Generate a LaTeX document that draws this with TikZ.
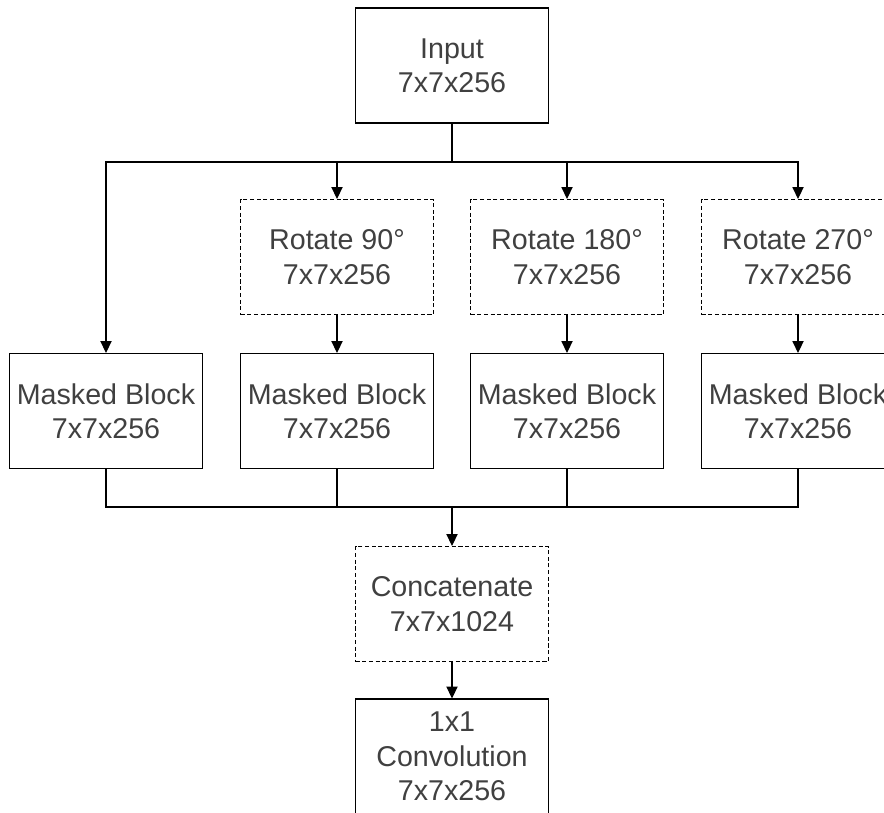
\documentclass[tikz,border=0pt]{standalone}
\usepackage{fontspec}
\setmainfont{Liberation Sans}
\usetikzlibrary{arrows.meta}

\tikzset{
  block/.style={draw, line width=0.6pt, minimum width=3.86cm, minimum height=2.3cm,
    align=center, text=black!75, font=\fontsize{16.3}{19.6}\selectfont},
  opblock/.style={block, dash pattern=on 2.3pt off 1.5pt},
  flow/.style={line width=0.6pt},
  arr/.style={flow, -{Triangle[width=6.4pt,length=6.8pt]}}
}

\begin{document}
\begin{tikzpicture}[scale=1]
\clip (0,0) rectangle (17.68,-16.24);
\node[block] (in) at (9.04,-1.31) {Input\\7x7x256};
\node[opblock] (rot1) at (6.74,-5.14) {Rotate 90°\\7x7x256};
\node[opblock] (rot2) at (11.34,-5.14) {Rotate 180°\\7x7x256};
\node[opblock] (rot3) at (15.96,-5.14) {Rotate 270°\\7x7x256};
\node[block] (mb0) at (2.12,-8.22) {Masked Block\\7x7x256};
\node[block] (mb1) at (6.74,-8.22) {Masked Block\\7x7x256};
\node[block] (mb2) at (11.34,-8.22) {Masked Block\\7x7x256};
\node[block] (mb3) at (15.96,-8.22) {Masked Block\\7x7x256};
\node[opblock] (cat) at (9.04,-12.08) {Concatenate\\7x7x1024};
\node[block] (conv) at (9.04,-15.13) {1x1\\Convolution\\7x7x256};
\coordinate (split) at (9.04,-3.24);
\coordinate (merge) at (9.04,-10.14);
% fan out
\draw[flow] (in) -- (split);
\draw[arr] (split) -| (mb0);
\draw[arr] (split) -| (rot1);
\draw[arr] (split) -| (rot2);
\draw[arr] (split) -| (rot3);
\draw[arr] (rot1) -- (mb1);
\draw[arr] (rot2) -- (mb2);
\draw[arr] (rot3) -- (mb3);
% gather
\draw[flow] (mb0) |- (merge);
\draw[flow] (mb1) |- (merge);
\draw[flow] (mb2) |- (merge);
\draw[flow] (mb3) |- (merge);
\draw[arr] (merge) -- (cat);
\draw[arr] (cat) -- (conv);
\end{tikzpicture}
\end{document}
